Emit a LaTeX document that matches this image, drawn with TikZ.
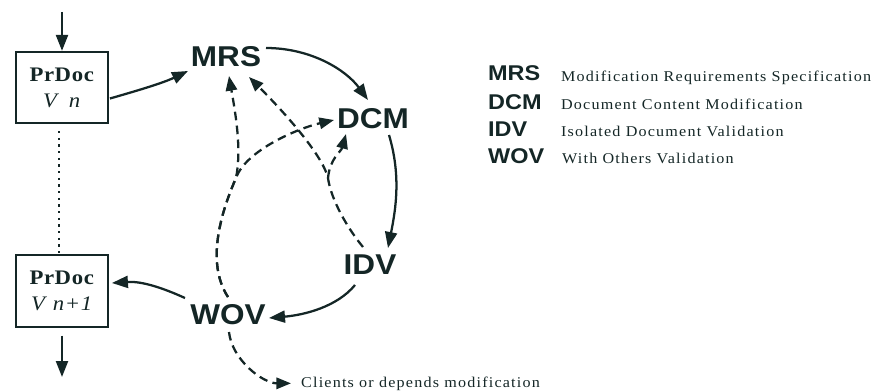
\documentclass[tikz,border=0pt]{standalone}
\usepackage{fontspec}
\setmainfont{Liberation Serif}
\newfontfamily\abbrfont[FakeStretch=1.1]{Liberation Sans}
\newfontfamily\descfont[FakeStretch=1.08,LetterSpace=8]{Liberation Serif}
\newfontfamily\boxfont[FakeStretch=1.1,LetterSpace=3]{Liberation Serif}
\usetikzlibrary{arrows.meta,calc}
\definecolor{ink}{HTML}{142626}

\begin{document}
\begin{tikzpicture}[x=0.75pt,y=0.75pt, line width=1.7pt, color=ink,
  every node/.style={inner sep=0pt, text=ink},
  stage/.style={font=\abbrfont\bfseries\fontsize{21.5}{21.5}\selectfont},
  abbr/.style={anchor=base west, font=\abbrfont\bfseries\fontsize{16}{16}\selectfont},
  desc/.style={anchor=base west, font=\descfont\fontsize{11.2}{12}\selectfont},
  docbox/.style={draw, line width=1.4pt, minimum width=69pt, minimum height=53.5pt,
    align=center, font=\boxfont\fontsize{15.5}{19.5}\selectfont},
  flow/.style={-{Triangle[length=12pt,width=9pt]}},
  side/.style={-{Triangle[length=11pt,width=8.5pt]}, dash pattern=on 6.5pt off 4pt},
  link/.style={line width=1.6pt, dash pattern=on 1.6pt off 3.4pt}
]
\useasboundingbox (0,0) rectangle (881,-392);

% document versions
\node[docbox] (b1) at (62,-87.5) {\textbf{PrDoc}\\\textit{V\hspace{9pt}n}};
\node[docbox] (b2) at (62,-291) {\textbf{PrDoc}\\\textit{V\hspace{6pt}n+1}};
\coordinate (src) at (62,-12);
\coordinate (dst) at (62,-377);
\draw[flow] (src) -- (b1.north);
\draw[flow] ($(b2.south)+(0,-8)$) -- (dst);
\draw[link] ($(b1.south)+(-3,-7)$) -- ($(b2.north)+(-3,0)$);

% stages of the cycle
\node[stage] (mrs) at (226,-57) {MRS};
\node[stage] (dcm) at (373,-119) {DCM};
\node[stage] (idv) at (370,-265) {IDV};
\node[stage] (wov) at (228,-315) {WOV};

% main cycle
\draw[flow] ($(b1.east)+(1,-11)$) .. controls +(28,8) and +(-25,-12) .. ($(mrs)+(-38,-14)$);
\draw[flow] ($(mrs)+(40,9)$) .. controls +(45,0) and +(-22,30) .. ($(dcm)+(-5,19)$);
\draw[flow] ($(dcm)+(16,-16)$) .. controls +(12,-40) and +(8,40) .. ($(idv)+(18,17)$);
\draw[flow] ($(idv)+(-15,-20)$) .. controls +(-18,-22) and +(35,3) .. ($(wov)+(41,-3)$);
\draw[flow] ($(wov)+(-43,17)$) .. controls +(-22,10) and +(30,2) .. ($(b2.east)+(3,8)$);

% feedback paths
\coordinate (s1) at (236,-178);
\coordinate (s2) at (328,-178);
\draw[side] ($(wov)+(0,18)$) .. controls +(-23,35) and +(-14,-32) .. (s1)
  .. controls +(6,30) and +(6,-35) .. ($(mrs)+(3,-19)$);
\draw[side] ($(wov)+(0,18)$) .. controls +(-23,35) and +(-14,-32) .. (s1)
  .. controls +(10,28) and +(-35,-8) .. ($(dcm)+(-39,-1)$);
\draw[side] ($(idv)+(-7,18)$) .. controls +(-15,18) and +(3,-22) .. (s2)
  .. controls +(-6,25) and +(30,-30) .. ($(mrs)+(23,-20)$);
\draw[side] (s2) .. controls +(2,20) and +(-5,-18) .. ($(dcm)+(-27,-15)$);

\node[desc] (cl) at (300,-387) {Clients or depends modification};
\draw[side] ($(wov)+(1,-17)$) .. controls +(3,-28) and +(-28,0) .. ($(cl.west)+(-9,0)$);

% legend
\node[abbr] (lm) at (487,-81) {MRS};
\node[abbr] (ld) at (487,-110) {DCM};
\node[abbr] (li) at (487,-137) {IDV};
\node[abbr] (lw) at (487,-164) {WOV};
\node[desc] at (560,-82) {Modification Requirements Specification};
\node[desc] at (560,-110) {Document Content Modification};
\node[desc] at (560,-137) {Isolated Document Validation};
\node[desc] at (561,-164) {With Others Validation};
\end{tikzpicture}
\end{document}
